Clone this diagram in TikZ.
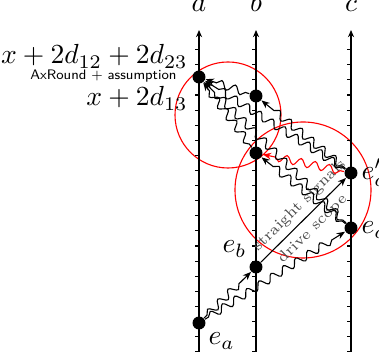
\documentclass[tikz,border=0pt]{standalone}
\usetikzlibrary{decorations.pathmorphing,arrows.meta}
\begin{document}
\begin{tikzpicture}[x=0.3622pt,y=-0.3622pt,
 dot/.style={circle,fill=black,inner sep=0pt,minimum size=4.7pt},
 axis/.style={line width=0.45pt,-{Stealth[length=2.6pt,width=2.2pt]}},
 wave/.style={decorate,decoration={snake,amplitude=1.4pt,segment length=5.2pt,pre length=1.5pt,post length=3.5pt}},
 sig/.style={line width=0.4pt,-{Stealth[length=3pt,width=2.4pt]}},
 zone/.style={red,line width=0.4pt},
 lbl/.style={inner sep=0pt},
 note/.style={font=\fontsize{5.5}{6.5}\selectfont,text=black!70,sloped,inner sep=2pt}
]
\useasboundingbox (0,0) rectangle (379,360);
% regions
\draw[zone] (228,115) circle[radius=19.2pt];
\draw[zone] (303,190) circle[radius=24.63pt];
% time lines
\foreach \n/\x in {a/199,b/256,c/351}{
  \draw[axis] (\x,351.7) -- (\x,30);
  \foreach \k in {0,...,20} \draw[line width=0.4pt] (\x,{351.7-15.1*\k}) -- ++(-4,0);
  \node[lbl,anchor=base] (lab\n) at (\x,12) {$\n$};
}
% events
\node[dot] (ea) at (199,323) {};
\node[dot] (eb) at (256,267) {};
\node[dot] (ec) at (351,228) {};
\node[dot] (ecp) at (351,173) {};
\node[dot] (bm) at (256,153) {};
\node[dot] (bu) at (256,96) {};
\node[dot] (atop) at (199,77) {};
% labels
\node[lbl,anchor=base west] (lea) at (208,345) {$e_a$};
\node[lbl,anchor=base east] (leb) at (247,253) {$e_b$};
\node[lbl,anchor=base west] (lec) at (361,234) {$e_c$};
\node[lbl,anchor=base west] (lecp) at (361,180) {$e'_c$};
\node[lbl,anchor=base east] (l1) at (188,64) {$x+2d_{12}+2d_{23}$};
\node[lbl,anchor=base east,font=\tiny\sffamily] (l2) at (177,80) {AxRound + assumption};
\node[lbl,anchor=base east] (l3) at (188,106) {$x+2d_{13}$};
% signals
\draw[sig,wave] (ea) -- (eb);
\draw[sig,wave] (ea) -- (ec);
\draw[sig] (eb) -- node[note,above,pos=0.56]{straight signals} node[note,below,pos=0.5]{drive scope} (ecp);
\draw[sig,wave] (ec) -- (bm);
\draw[sig,wave,red] (ecp) -- (bm);
\draw[sig,wave] (ecp) -- (bu);
\draw[sig,wave] (ecp) -- (atop);
\draw[sig,wave] (ec) -- (atop);
\draw[sig,wave] (bm) -- (atop);
\draw[sig,wave] (bu) -- (atop);
\end{tikzpicture}
\end{document}
